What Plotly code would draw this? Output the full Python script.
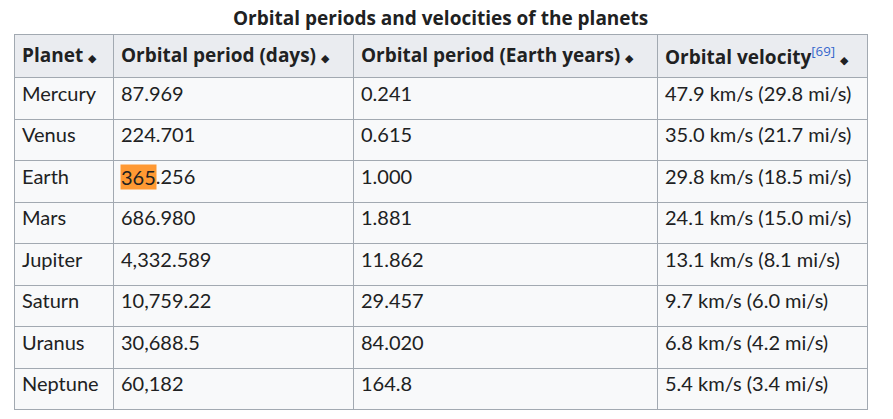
import plotly.graph_objects as go

W, H = 893, 419
PAGE_MARGIN = 8  # the html body margin shifts the figure by this much

TITLE = "Orbital periods and velocities of the planets"
HEADERS = ["Planet", "Orbital period (days)", "Orbital period (Earth years)", "Orbital velocity"]
VELOCITY_REF = "[69]"

planets = ["Mercury", "Venus", "Earth", "Mars", "Jupiter", "Saturn", "Uranus", "Neptune"]
period_days = ["87.969", "224.701", "365.256", "686.980", "4,332.589", "10,759.22", "30,688.5", "60,182"]
period_years = ["0.241", "0.615", "1.000", "1.881", "11.862", "29.457", "84.020", "164.8"]
velocity_kms = ["47.9", "35.0", "29.8", "24.1", "13.1", "9.7", "6.8", "5.4"]
velocity_mis = ["29.8", "21.7", "18.5", "15.0", "8.1", "6.0", "4.2", "3.4"]

TEXT = "#202122"
BORDER = "#a2a9b1"
FONT = "Lato"
HEAD_FONT = "Open Sans"

# table box in screen pixels
LEFT, RIGHT, TOP = 14 - PAGE_MARGIN, 867 - PAGE_MARGIN, 34 - PAGE_MARGIN
HEAD_H, ROW_H = 42, 41.5
col_px = [99, 240, 304, 210]

# a trailing <br> stops the table from re-wrapping the text on spaces,
# which would otherwise break the <span style=...> tags apart
arrow = ' <span style="font-size:11px">◆</span><br>'
header_text = [
    "<b>" + HEADERS[0] + "</b>" + arrow,
    "<b>" + HEADERS[1] + "</b>" + arrow,
    "<b>" + HEADERS[2] + "</b>" + arrow,
    "<b>" + HEADERS[3] + '</b><sup><span style="color:#3366cc">' + VELOCITY_REF + "</span></sup>" + arrow,
]

velocity = [f"{k} km/s ({m} mi/s)" for k, m in zip(velocity_kms, velocity_mis)]

table = go.Table(
    domain=dict(x=[LEFT / W, RIGHT / W], y=[0, 1 - TOP / H]),
    columnwidth=col_px,
    header=dict(
        values=header_text,
        fill_color="#eaecf0",
        line=dict(color=BORDER, width=1),
        font=dict(family=HEAD_FONT, size=19, color=TEXT),
        align="left",
        height=HEAD_H,
    ),
    cells=dict(
        values=[planets, period_days, period_years, velocity],
        fill_color="#f8f9fa",
        line=dict(color=BORDER, width=1),
        font=dict(family=FONT, size=20, color=TEXT),
        align="left",
        height=ROW_H,
    ),
)

fig = go.Figure(data=[table])

# orange highlight over "365" in the Earth row
earth = planets.index("Earth")
row_top = TOP + HEAD_H + earth * ROW_H
fig.add_annotation(
    text=period_days[earth][:3],
    xref="paper", yref="paper",
    x=(LEFT + col_px[0] + 7) / W, y=1 - (row_top + 18) / H,
    xanchor="left", yanchor="middle", showarrow=False,
    font=dict(family=FONT, size=20, color=TEXT),
    bgcolor="#ff9933", borderpad=0,
)

fig.add_annotation(
    text="<b>" + TITLE + "</b>",
    xref="paper", yref="paper", x=(LEFT + RIGHT) / 2 / W, y=1 - (18 - PAGE_MARGIN) / H,
    showarrow=False, font=dict(family=HEAD_FONT, size=19, color=TEXT),
    xanchor="center", yanchor="middle",
)

fig.update_layout(
    width=W, height=H,
    margin=dict(l=0, r=0, t=0, b=0),
    paper_bgcolor="white",
)

fig.write_html("out.html")
